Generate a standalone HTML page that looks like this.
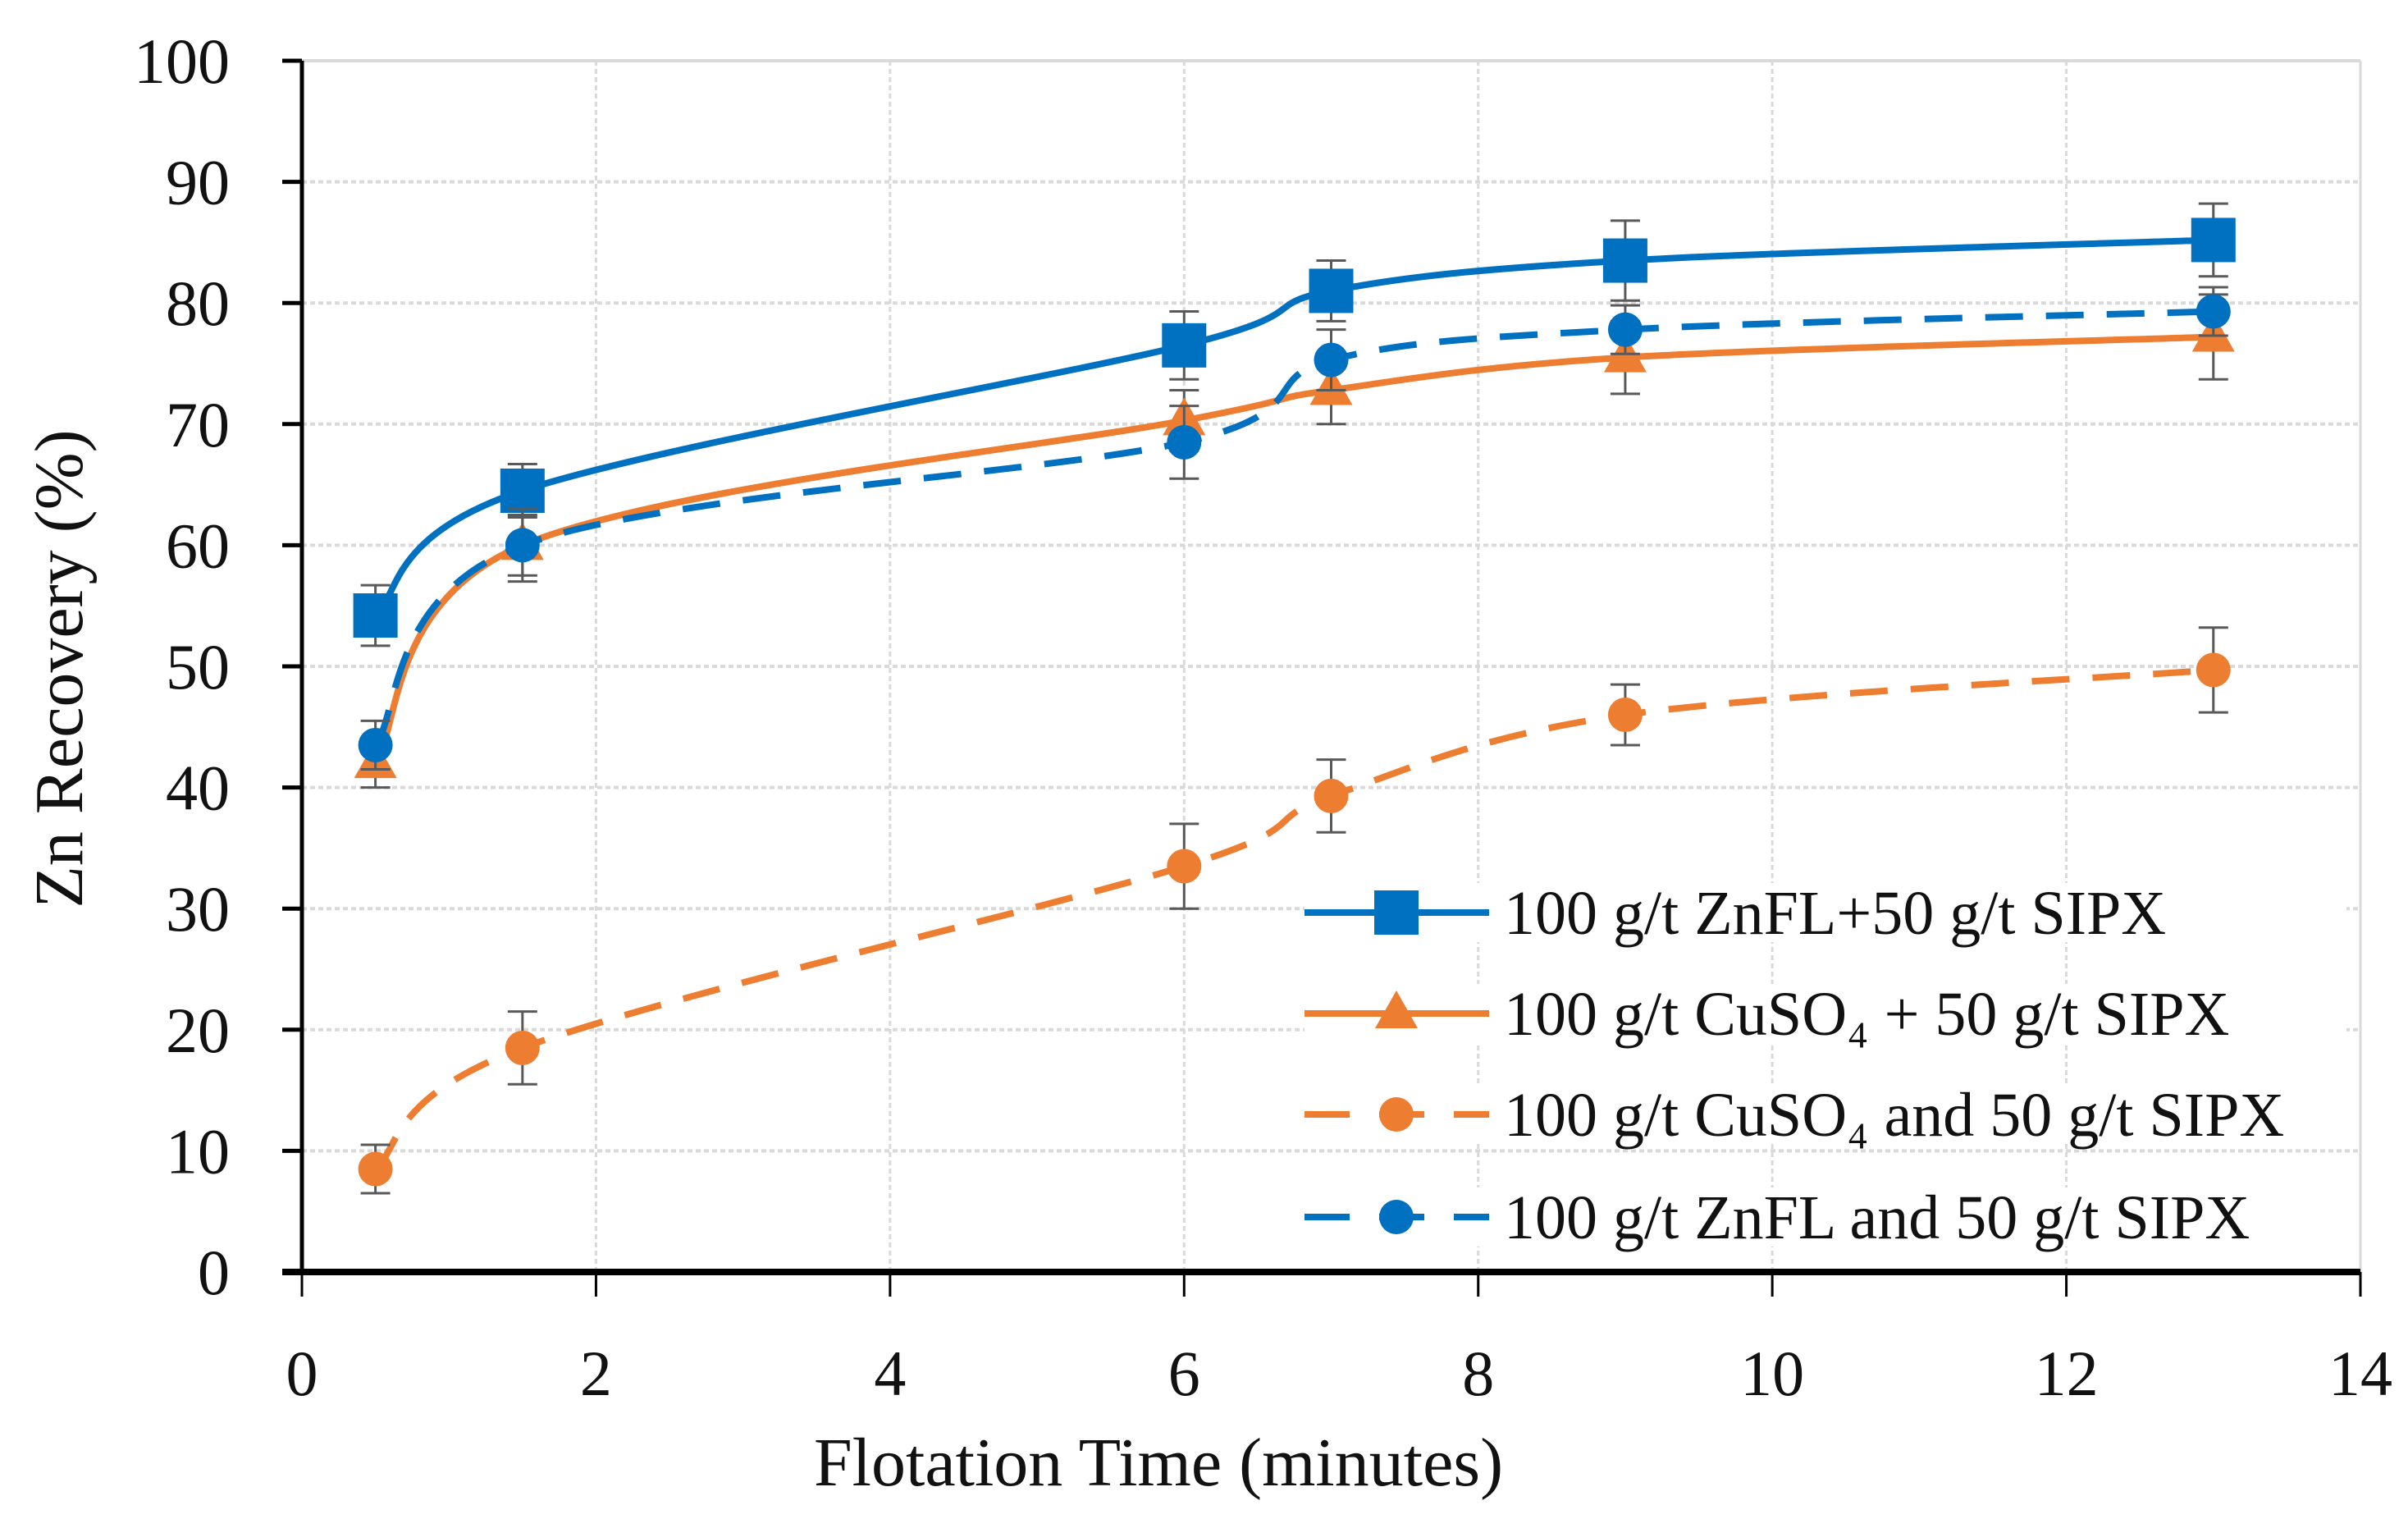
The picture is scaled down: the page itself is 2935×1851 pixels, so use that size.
<!DOCTYPE html>
<html><head><meta charset="utf-8"><style>
html,body{margin:0;padding:0;background:#fff;}
svg{display:block;font-family:"Liberation Serif",serif;}
</style></head><body>
<svg id="chart" width="2935" height="1851" viewBox="0 0 2935 1851">
<g id="grid"></g>
<g id="axes"></g>
<g id="series"></g>
<text x="1412" y="1810" font-size="84" text-anchor="middle" fill="#111">Flotation Time (minutes)</text>
<text transform="translate(100,815) rotate(-90)" font-size="84" text-anchor="middle" fill="#111">Zn Recovery (%)</text>
<g id="legend"></g>
</svg>
<script>
const times = [0.5, 1.5, 6, 7, 9, 13];
const blueSolid = [54.2, 64.5, 76.5, 81, 83.5, 85.2];
const blueSolidErr = [2.5, 2.2, 2.8, 2.5, 3.3, 3];
const orangeSolid = [42, 60, 70.3, 72.8, 75.5, 77.2];
const orangeSolidErr = [2, 3, 2.5, 2.8, 3, 3.5];
const orangeDashed = [8.5, 18.5, 33.5, 39.3, 46, 49.7];
const orangeDashedErr = [2, 3, 3.5, 3, 2.5, 3.5];
const blueDashed = [43.5, 60, 68.5, 75.3, 77.8, 79.3];
const blueDashedErr = [2, 2.5, 3, 2.5, 2, 2];
const xTicks = [0, 2, 4, 6, 8, 10, 12, 14];
const yTicks = [0, 10, 20, 30, 40, 50, 60, 70, 80, 90, 100];
const legendLabels = ["100 g/t ZnFL+50 g/t SIPX", "100 g/t CuSO₄ + 50 g/t SIPX", "100 g/t CuSO₄ and 50 g/t SIPX", "100 g/t ZnFL and 50 g/t SIPX"];

const NS = "http://www.w3.org/2000/svg";
const X0 = 368, X1 = 2877, Y0 = 1550, Y1 = 74;
const sx = v => X0 + (v - 0) / 14 * (X1 - X0);
const sy = v => Y0 - v / 100 * (Y0 - Y1);
function mk(tag, attrs, parent) {
  const e = document.createElementNS(NS, tag);
  for (const k in attrs) e.setAttribute(k, attrs[k]);
  parent.appendChild(e);
  return e;
}
const grid = document.getElementById('grid');
const axes = document.getElementById('axes');
const series = document.getElementById('series');
const legend = document.getElementById('legend');

xTicks.forEach(t => {
  if (t > 0) {
    const l = mk('line', {x1: sx(t), x2: sx(t), y1: Y1, y2: Y0, stroke: '#d9d9d9', 'stroke-width': 3, 'stroke-dasharray': t === 14 ? 'none' : '6 4'}, grid);
    
    
  }
  const tk = mk('line', {x1: sx(t), x2: sx(t), y1: Y0, y2: Y0 + 30, stroke: '#000', 'stroke-width': 3}, axes);
  
  
  const tx = mk('text', {x: sx(t), y: Y0 + 150, 'font-size': 78, 'text-anchor': 'middle', fill: '#111'}, axes);
  tx.textContent = t;
  
  
});
yTicks.forEach(t => {
  if (t > 0) {
    const l = mk('line', {x1: X0, x2: X1, y1: sy(t), y2: sy(t), stroke: '#d9d9d9', 'stroke-width': 4, 'stroke-dasharray': t === 100 ? 'none' : '6 4'}, grid);
    
    
  }
  const tk = mk('line', {x1: X0 - 24, x2: X0, y1: sy(t), y2: sy(t), stroke: '#000', 'stroke-width': 5}, axes);
  
  
  const tx = mk('text', {x: X0 - 88, y: sy(t) + 27, 'font-size': 78, 'text-anchor': 'end', fill: '#111'}, axes);
  tx.textContent = t;
  
  
});
const ya = mk('line', {x1: X0, x2: X0, y1: Y1, y2: Y0, stroke: '#000', 'stroke-width': 5}, axes);


const xa = mk('line', {x1: X0 - 24, x2: X1, y1: Y0, y2: Y0, stroke: '#000', 'stroke-width': 8}, axes);



function smoothPath(pts) {
  let d = `M${pts[0][0]},${pts[0][1]}`;
  for (let i = 0; i < pts.length - 1; i++) {
    const p0 = pts[Math.max(0, i - 1)], p1 = pts[i], p2 = pts[i + 1], p3 = pts[Math.min(pts.length - 1, i + 2)];
    const t = 1 / 6;
    const c1 = [p1[0] + (p2[0] - p0[0]) * t, p1[1] + (p2[1] - p0[1]) * t];
    const c2 = [p2[0] - (p3[0] - p1[0]) * t, p2[1] - (p3[1] - p1[1]) * t];
    d += ` C${c1[0]},${c1[1]} ${c2[0]},${c2[1]} ${p2[0]},${p2[1]}`;
  }
  return d;
}
function marker(kind, x, y, color, parent) {
  let m;
  if (kind === 'square') m = mk('rect', {x: x - 27, y: y - 27, width: 54, height: 54, fill: color}, parent);
  else if (kind === 'triangle') m = mk('polygon', {points: `${x},${y - 28} ${x + 26},${y + 18} ${x - 26},${y + 18}`, fill: color}, parent);
  else m = mk('circle', {cx: x, cy: y, r: 21, fill: color}, parent);
  return m;
}
const defs = [
  {name: 'zinc-fl-plus-sipx', vals: blueSolid, err: blueSolidErr, color: '#0070c0', dash: 'none', mk: 'square'},
  {name: 'cuso4-plus-sipx', vals: orangeSolid, err: orangeSolidErr, color: '#ed7d31', dash: 'none', mk: 'triangle'},
  {name: 'cuso4-and-sipx', vals: orangeDashed, err: orangeDashedErr, color: '#ed7d31', dash: '46 28', mk: 'circle'},
  {name: 'zinc-fl-and-sipx', vals: blueDashed, err: blueDashedErr, color: '#0070c0', dash: '46 28', mk: 'circle'}
];
defs.forEach(s => {
  const g = mk('g', {}, series);
  
  
  const pts = times.map((t, i) => [sx(t), sy(s.vals[i])]);
  const p = mk('path', {d: smoothPath(pts), fill: 'none', stroke: s.color, 'stroke-width': 8, 'stroke-dasharray': s.dash}, g);
  
  
  times.forEach((t, i) => {
    const x = sx(t), yt = sy(s.vals[i] + s.err[i]), yb = sy(s.vals[i] - s.err[i]);
    const e = mk('path', {d: `M${x},${yt} V${yb} M${x - 18},${yt} H${x + 18} M${x - 18},${yb} H${x + 18}`, stroke: '#595959', 'stroke-width': 3, fill: 'none'}, g);
    
    
    const m = marker(s.mk, x, sy(s.vals[i]), s.color, g);
    
    
  });
});
const legY = [1112, 1235, 1358, 1483];
defs.forEach((s, i) => {
  const g = mk('g', {}, legend);
  
  
  mk('rect', {x: 1590, y: legY[i] - 36, width: 1270, height: 72, fill: '#fff'}, g);
  mk('line', {x1: 1590, x2: 1815, y1: legY[i], y2: legY[i], stroke: s.color, 'stroke-width': 8, 'stroke-dasharray': s.dash === 'none' ? 'none' : '55 36'}, g);
  marker(s.mk, 1702, legY[i], s.color, g);
  const t = mk('text', {x: 1833, y: legY[i] + 26, 'font-size': 76, fill: '#111'}, g);
  t.textContent = legendLabels[i];
});
</script>
</body></html>
